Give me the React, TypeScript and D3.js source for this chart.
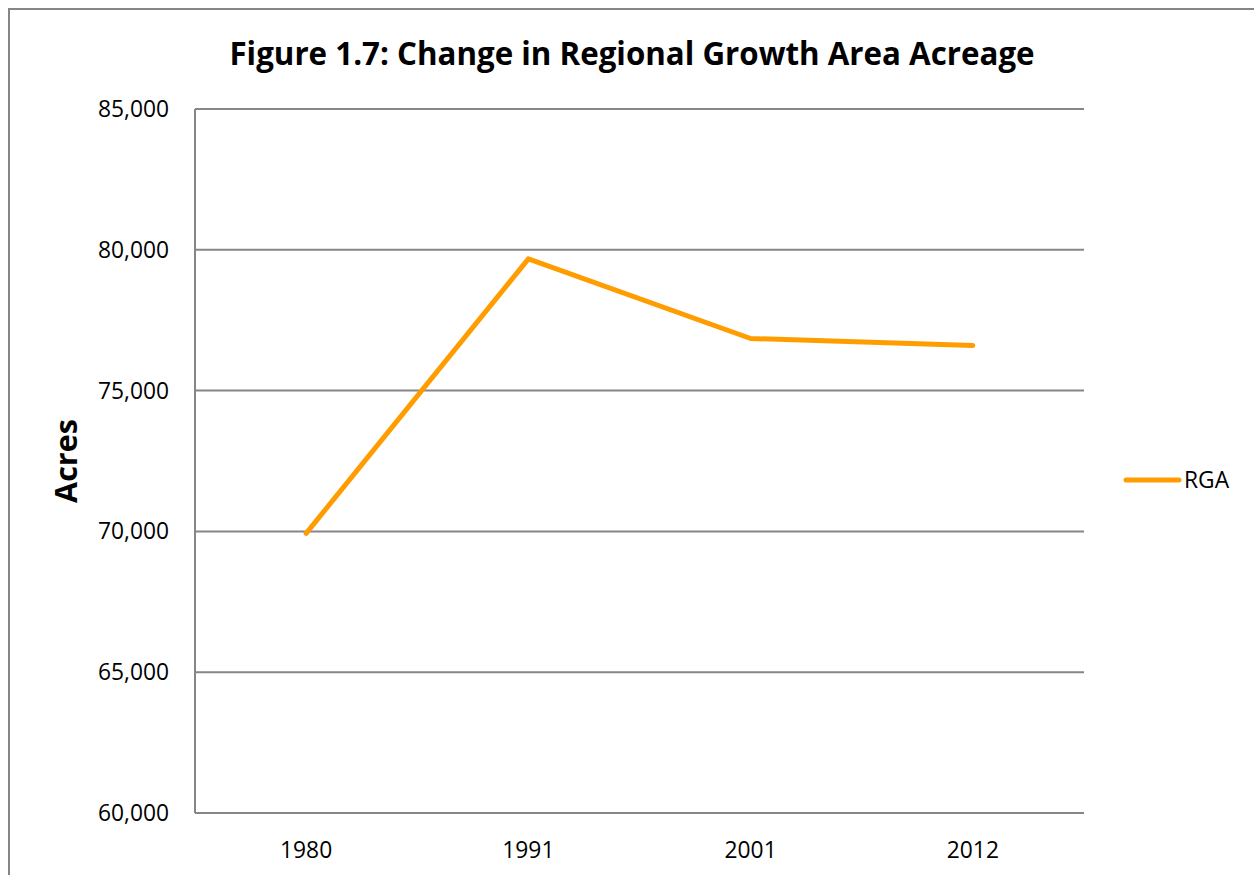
import React from "react";
import * as d3 from "d3";

const years = ["1980", "1991", "2001", "2012"];
const rgaValues = [69930, 79680, 76850, 76600];
const yTicks = [60000, 65000, 70000, 75000, 80000, 85000];
const seriesName = "RGA";
const titleText = "Figure 1.7: Change in Regional Growth Area Acreage";
const yAxisTitle = "Acres";

const W = 1254;
const H = 875;
const plot = { left: 195, right: 1084, top: 109, bottom: 813 };
const FONT = "'Open Sans', 'Noto Sans', sans-serif";
const GRID = "#868686";
const ORANGE = "#FF9D00";

export default function App() {
  const x = d3.scaleBand<string>().domain(years).range([plot.left, plot.right]);
  const y = d3.scaleLinear().domain([60000, 85000]).range([plot.bottom, plot.top]);
  const fmt = d3.format(",");
  const line = d3
    .line<number>()
    .x((_, i) => (x(years[i]) as number) + x.bandwidth() / 2)
    .y((d) => y(d));

  return (
    <svg
      width={W}
      height={H}
      style={{ position: "absolute", left: 0, top: 0, background: "#fff" }}
      fontFamily={FONT}
    >
      <rect x={9} y={9} width={W + 20} height={H + 20} fill="#fff" stroke={GRID} strokeWidth={2} />
      <text x={632} y={65} textAnchor="middle" fontSize={31.3} fontWeight="bold" fill="#000">
        {titleText}
      </text>
      {yTicks.map((t) => (
        <line key={t} x1={plot.left} x2={plot.right} y1={y(t)} y2={y(t)} stroke={GRID} strokeWidth={2} />
      ))}
      <line x1={plot.left} x2={plot.left} y1={plot.top} y2={plot.bottom} stroke={GRID} strokeWidth={2} />
      {yTicks.map((t) => (
        <text key={t} x={169} y={y(t) + 8} textAnchor="end" fontSize={22.8} fill="#000">
          {fmt(t)}
        </text>
      ))}
      {years.map((yr) => (
        <text
          key={yr}
          x={(x(yr) as number) + x.bandwidth() / 2}
          y={858}
          textAnchor="middle"
          fontSize={22.8}
          fill="#000"
        >
          {yr}
        </text>
      ))}
      <text
        transform={`translate(77,461) rotate(-90)`}
        textAnchor="middle"
        fontSize={30.5}
        fontWeight="bold"
        fill="#000"
      >
        {yAxisTitle}
      </text>
      <path d={line(rgaValues) || ""} fill="none" stroke={ORANGE} strokeWidth={5} strokeLinejoin="round" strokeLinecap="round" />
      <line x1={1126} x2={1179} y1={480} y2={480} stroke={ORANGE} strokeWidth={5} strokeLinecap="round" />
      <text x={1184} y={488} fontSize={22.8} fill="#000">
        {seriesName}
      </text>
    </svg>
  );
}
